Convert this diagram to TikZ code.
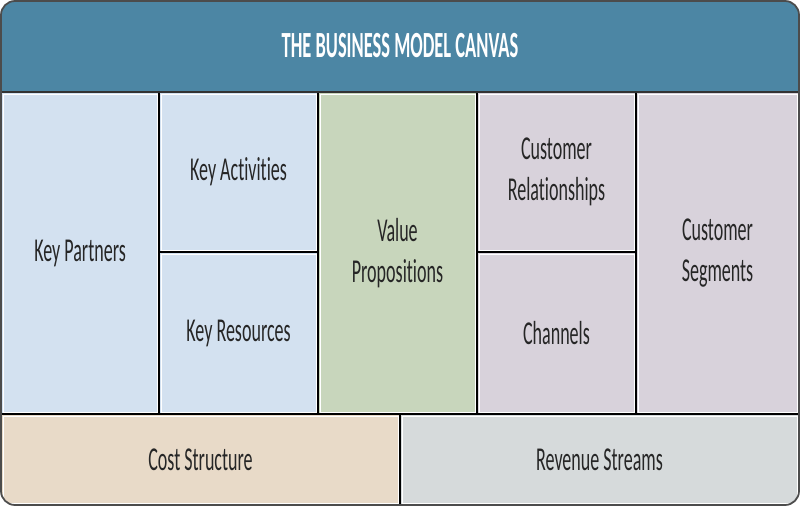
\documentclass[tikz,border=0pt]{standalone}
\usepackage{fontspec}
\setmainfont{Carlito}[FakeStretch=0.54, Ligatures={NoCommon,NoRare}]
\newfontfamily\titlefont{Carlito}[FakeStretch=0.5, Ligatures={NoCommon,NoRare}]
\definecolor{hdr}{RGB}{76,134,164}
\definecolor{kblue}{RGB}{211,225,240}
\definecolor{vgreen}{RGB}{200,214,188}
\definecolor{cpurple}{RGB}{216,210,219}
\definecolor{cbeige}{RGB}{232,218,200}
\definecolor{rgrey}{RGB}{214,218,219}
\begin{document}
\begin{tikzpicture}[x=0.02cm,y=-0.02cm,
  lbl/.style={align=center, text=black!85, font=\fontsize{19}{23}\selectfont},
  ttl/.style={text=white, font=\titlefont\fontsize{21}{25}\selectfont\bfseries}]
\useasboundingbox (0,0) rectangle (800,507);
\begin{scope}
\clip[rounded corners=.28cm] (1,1) rectangle (799,505);
% header
\fill[hdr] (1,1) rectangle (799,92);
\node[ttl] (title) at (400,46) {THE BUSINESS MODEL CANVAS};
% the nine blocks
\foreach \nm/\xa/\ya/\xb/\yb/\col/\txt in {
    kp/1/92/159/414/kblue/Key Partners,
    ka/159/92/318/252/kblue/Key Activities,
    kr/159/252/318/414/kblue/Key Resources,
    vp/318/92/477/414/vgreen/{Value\\Propositions},
    cr/477/92/636/252/cpurple/{Customer\\Relationships},
    ch/477/252/636/414/cpurple/Channels,
    cs/636/92/799/414/cpurple/{Customer\\Segments},
    cost/1/414/400/505/cbeige/Cost Structure,
    rev/400/414/799/505/rgrey/Revenue Streams}
{
    \fill[\col] (\xa,\ya) rectangle (\xb,\yb);
    \draw[white, line width=.5pt] (\xa+2,\ya+2) rectangle (\xb-2,\yb-2);
    \draw[black, line width=1pt] (\xa,\ya) rectangle (\xb,\yb);
    \node[lbl] (\nm) at ({(\xa+\xb)/2},{(\ya+\yb)/2}) {\txt};
}
\draw[black!80, line width=1.4pt] (1,92)--(799,92);
\end{scope}
% outer frame
\draw[black!70, line width=1pt, rounded corners=.28cm] (1,1) rectangle (799,505);
\end{tikzpicture}
\end{document}
